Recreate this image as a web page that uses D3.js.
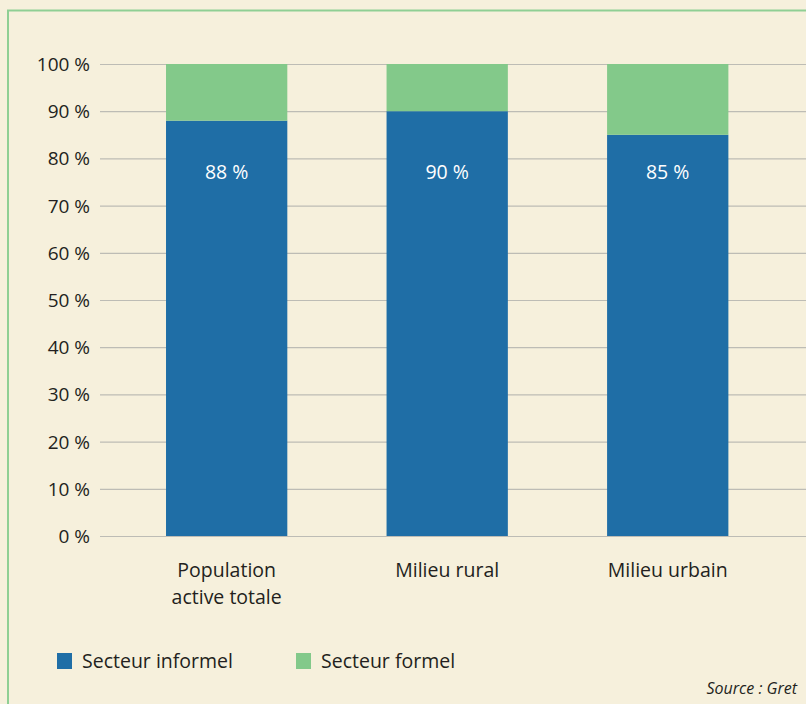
<!DOCTYPE html>
<html>
<head>
<meta charset="UTF-8">
<script src="https://d3js.org/d3.v7.min.js"></script>
<style>
  html, body { margin: 0; padding: 0; background: #f6f0dc; }
  svg text { font-family: "Open Sans", "Noto Sans", sans-serif; fill: #231f20; }
</style>
</head>
<body>
<div id="chart"></div>
<script>
// data
var categories = ["Population\nactive totale", "Milieu rural", "Milieu urbain"];
var informel = [88, 90, 85];
var formel = [12, 10, 15];
var yTicks = [0, 10, 20, 30, 40, 50, 60, 70, 80, 90, 100];
var seriesNames = ["Secteur informel", "Secteur formel"];
var colors = ["#1f6ea6", "#83c98a"];

var w = 806, h = 704;
var svg = d3.select("#chart").append("svg")
    .attr("width", w)
    .attr("height", h);

svg.append("rect").attr("width", w).attr("height", h).attr("fill", "#f6f0dc");

// green frame
svg.append("path")
    .attr("d", "M8," + h + "V10.5H" + w)
    .attr("fill", "none")
    .attr("stroke", "#8fcf94")
    .attr("stroke-width", 2);

var y = d3.scaleLinear().domain([0, 100]).range([536, 64]);
var x = d3.scaleBand().domain(categories).range([116.4, 778])
    .paddingInner(0.45).paddingOuter(0.225);

// gridlines
svg.selectAll(".grid")
    .data(yTicks)
    .enter()
    .append("line")
    .attr("x1", 100)
    .attr("x2", w)
    .attr("y1", function (d) { return y(d) + 0.5; })
    .attr("y2", function (d) { return y(d) + 0.5; })
    .attr("stroke", "#bdbcb5")
    .attr("stroke-width", 1.2);

svg.selectAll(".ytick")
    .data(yTicks)
    .enter()
    .append("text")
    .attr("x", 90)
    .attr("y", function (d) { return y(d) + 7; })
    .attr("text-anchor", "end")
    .style("font-size", "19px")
    .text(function (d) { return d + " %"; });

// stacked bars
var bars = svg.selectAll(".bar")
    .data(categories)
    .enter()
    .append("g");

bars.append("rect")
    .attr("x", function (d) { return x(d); })
    .attr("width", x.bandwidth())
    .attr("y", function (d, i) { return y(informel[i]); })
    .attr("height", function (d, i) { return y(0) - y(informel[i]); })
    .attr("fill", colors[0]);

bars.append("rect")
    .attr("x", function (d) { return x(d); })
    .attr("width", x.bandwidth())
    .attr("y", function (d, i) { return y(informel[i] + formel[i]); })
    .attr("height", function (d, i) { return y(informel[i]) - y(informel[i] + formel[i]); })
    .attr("fill", colors[1]);

// value labels sit at a fixed height inside the blue bars
var labelY = 179;
bars.append("text")
    .attr("x", function (d) { return x(d) + x.bandwidth() / 2; })
    .attr("y", labelY)
    .attr("text-anchor", "middle")
    .style("font-size", "19.5px")
    .style("fill", "#ffffff")
    .text(function (d, i) { return informel[i] + " %"; });

// category labels
var cat = svg.selectAll(".cat")
    .data(categories)
    .enter()
    .append("text")
    .attr("text-anchor", "middle")
    .style("font-size", "19.5px");

cat.selectAll("tspan")
    .data(function (d) { return d.split("\n").map(function (t) { return { t: t, c: d }; }); })
    .enter()
    .append("tspan")
    .attr("x", function (d) { return x(d.c) + x.bandwidth() / 2; })
    .attr("y", function (d, i) { return 577 + i * 27; })
    .text(function (d) { return d.t; });

// legend
var legendX = [57, 296];
var legend = svg.selectAll(".legend")
    .data(seriesNames)
    .enter()
    .append("g")
    .attr("transform", function (d, i) { return "translate(" + legendX[i] + ",653)"; });

legend.append("rect")
    .attr("width", 15)
    .attr("height", 16)
    .attr("fill", function (d, i) { return colors[i]; });

legend.append("text")
    .attr("x", 25)
    .attr("y", 15)
    .style("font-size", "19.5px")
    .text(function (d) { return d; });

svg.append("text")
    .attr("x", 797)
    .attr("y", 694)
    .attr("text-anchor", "end")
    .style("font-size", "16px")
    .style("font-style", "italic")
    .text("Source : Gret");
</script>
</body>
</html>
